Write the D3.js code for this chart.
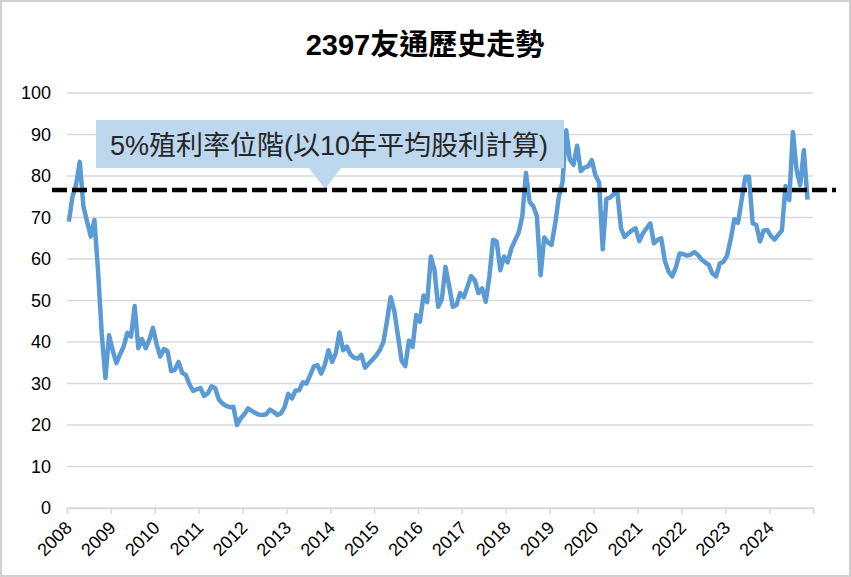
<!DOCTYPE html>
<meta charset="utf-8">
<head>
  <title>2397友通歷史走勢</title>
</head>

<style>
body { margin: 0; background: #fff; }
text { font-family: "Liberation Sans", Arial, "Noto Sans CJK TC", sans-serif; }
</style>

<body>
  <div id="content">
    <svg width="851" height="577"></svg>
  </div>

  <script src="https://cdnjs.cloudflare.com/ajax/libs/d3/7.8.5/d3.min.js"></script>
  <script>
var width = 851, height = 577

// monthly price, Jan 2008 .. Nov 2024
var years = d3.range(2008, 2025)
var prices = [
  69, 75, 78, 83.4, 72.6, 69, 65.4, 69.4, 57, 42, 31.3, 41.6,          // 2008
  38, 34.9, 37, 38.9, 42.2, 41.3, 48.7, 38.5, 40.7, 38.5, 40.5, 43.4,  // 2009
  39.5, 36.5, 38.3, 37.8, 33, 33.3, 35.2, 32.6, 32, 29.8, 28.2, 28.6,  // 2010
  28.9, 27, 27.6, 29.3, 28.9, 26.2, 25.2, 24.6, 24.3, 24.4, 20, 21.6,  // 2011
  22.6, 24, 23.4, 22.9, 22.5, 22.4, 22.6, 23.7, 23.2, 22.4, 22.8, 24.3, // 2012
  27.5, 26.4, 28.3, 28.4, 30.3, 30, 32, 34.1, 34.4, 32.4, 34.5, 38,    // 2013
  35.2, 37.3, 42.3, 38, 38.9, 37, 36.2, 36, 36.9, 33.8, 34.8, 35.7,    // 2014
  36.7, 38, 39.9, 45, 50.8, 47.5, 41.5, 35.5, 34.2, 40.3, 38.8, 46.5,  // 2015
  44.9, 51.2, 49.6, 60.6, 57.3, 48.5, 50.3, 58.1, 53.5, 48.5, 48.9, 51.8, // 2016
  50.8, 53.3, 55.9, 54.9, 51.8, 52.9, 49.7, 55.7, 64.6, 64.2, 57.3, 60.6, // 2017
  59.2, 62.5, 64.5, 66.3, 70.2, 80.7, 73.8, 72.7, 70.3, 56.1, 65.2, 64,   // 2018
  63.4, 68.5, 75, 78.5, 91, 84, 82.7, 87.3, 81.2, 82, 82.3, 83.8,         // 2019
  80.2, 78.5, 62.3, 74.5, 74.8, 75.6, 76, 67.4, 65.3, 66.2, 66.9, 67.4,   // 2020
  64.3, 66.2, 67.4, 68.6, 63.8, 64.6, 65, 59.5, 57, 55.8, 58, 61.3,       // 2021
  61.2, 60.8, 61, 61.7, 61, 59.9, 59.2, 58.6, 56.5, 55.8, 58.9, 59.3,     // 2022
  60.8, 64.8, 69.6, 68.7, 74.3, 79.8, 79.8, 68.6, 68.2, 64.2, 66.9, 67,   // 2023
  65.5, 64.7, 65.8, 66.9, 77.6, 74.2, 90.6, 81.5, 77.8, 86.2, 74.3        // 2024
]
var yieldLevel = 76.6
var yTicks = d3.range(0, 101, 10)
var titleText = '2397友通歷史走勢'
var noteText = '5%殖利率位階(以10年平均股利計算)'

var svg = d3.select('svg')

// outer frame
svg.append('rect')
  .attr('x', 1).attr('y', 1)
  .attr('width', width - 2).attr('height', height - 2)
  .attr('fill', '#fff')
  .attr('stroke', '#d0d0d0')
  .attr('stroke-width', 2)

var x = d3.scaleLinear().domain([0, years.length * 12]).range([67, 813])
var y = d3.scaleLinear().domain([0, 100]).range([508, 93])

// gridlines
svg.append('g')
  .selectAll('line')
  .data(yTicks)
  .join('line')
  .attr('x1', x(0)).attr('x2', x(years.length * 12))
  .attr('y1', function(d) { return y(d) })
  .attr('y2', function(d) { return y(d) })
  .attr('stroke', '#d9d9d9')
  .attr('stroke-width', 1.5)

// y tick labels
svg.append('g')
  .selectAll('text')
  .data(yTicks)
  .join('text')
  .attr('x', 51)
  .attr('y', function(d) { return y(d) })
  .attr('dy', '0.35em')
  .attr('text-anchor', 'end')
  .attr('font-size', 18)
  .attr('fill', '#000')
  .text(function(d) { return d })

// x axis ticks at year boundaries
var xAxis = d3.axisBottom(x)
  .tickValues(d3.range(0, years.length * 12 + 1, 12))
  .tickSize(6)
  .tickFormat('')
var gx = svg.append('g')
  .attr('transform', 'translate(0,' + y(0) + ')')
  .call(xAxis)
gx.select('.domain').attr('stroke', '#d9d9d9').attr('stroke-width', 1.5)
gx.selectAll('.tick line').attr('stroke', '#d9d9d9').attr('stroke-width', 1.5)

// year labels
svg.append('g')
  .selectAll('text')
  .data(years)
  .join('text')
  .attr('transform', function(d, i) {
    return 'translate(' + (x(i * 12) + 6) + ',529) rotate(-45)'
  })
  .attr('text-anchor', 'end')
  .attr('font-size', 18)
  .attr('fill', '#000')
  .text(function(d) { return d })

// price line
var line = d3.line()
  .x(function(d, i) { return x(i + 0.5) })
  .y(function(d) { return y(d) })

svg.append('path')
  .datum(prices)
  .attr('d', line)
  .attr('fill', 'none')
  .attr('stroke', '#5b9bd5')
  .attr('stroke-width', 4.5)
  .attr('stroke-linejoin', 'round')

// callout
var note = svg.append('g')
note.append('path')
  .attr('d', 'M96,120 H564 V168 H341 L325,' + (y(yieldLevel) - 1) + ' L309,168 H96 Z')
  .attr('fill', '#bdd7ee')
note.append('text')
  .attr('x', 329)
  .attr('y', 155)
  .attr('text-anchor', 'middle')
  .attr('font-size', 27)
  .attr('fill', '#262626')
  .text(noteText)

// 5% yield level
svg.append('line')
  .attr('x1', x(0) - 15).attr('x2', x(years.length * 12) + 23)
  .attr('y1', y(yieldLevel)).attr('y2', y(yieldLevel))
  .attr('stroke', '#000')
  .attr('stroke-width', 4.5)
  .attr('stroke-dasharray', '15,5')

// title
svg.append('text')
  .attr('x', 425)
  .attr('y', 55)
  .attr('text-anchor', 'middle')
  .attr('font-size', 29)
  .attr('font-weight', 'bold')
  .attr('fill', '#000')
  .text(titleText)
  </script>
</body>
</html>
